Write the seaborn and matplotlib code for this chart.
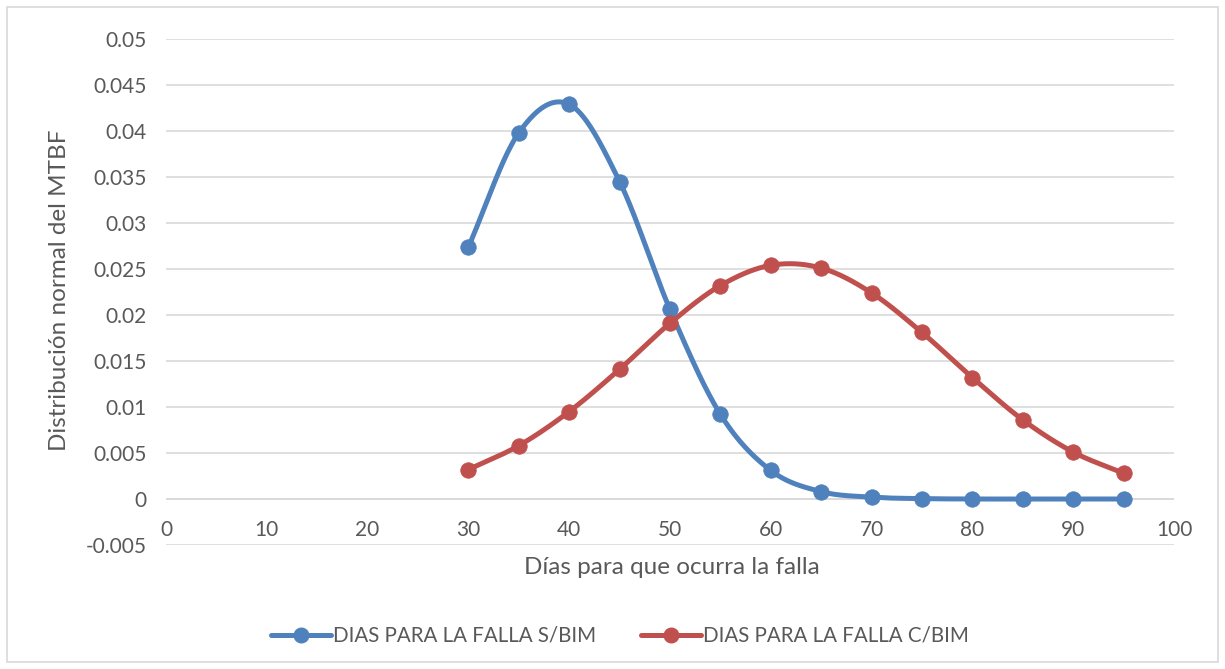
import numpy as np
import pandas as pd
import matplotlib
matplotlib.use("Agg")
import matplotlib.pyplot as plt
from matplotlib.patches import Rectangle
from matplotlib.lines import Line2D
import seaborn as sns

# Days until failure and normal-distribution density of the MTBF
dias = [30, 35, 40, 45, 50, 55, 60, 65, 70, 75, 80, 85, 90, 95]
sin_bim = [0.0274, 0.0398, 0.0429, 0.0345, 0.0206, 0.0092, 0.0031, 0.0008,
           0.0002, 0.00004, 0.0, 0.0, 0.0, 0.0]
con_bim = [0.0032, 0.0058, 0.0095, 0.0141, 0.0191, 0.0232, 0.0254, 0.0251,
           0.0224, 0.0181, 0.0132, 0.0086, 0.0051, 0.0028]
serie_sin = "DIAS PARA LA FALLA S/BIM"
serie_con = "DIAS PARA LA FALLA C/BIM"
x_ticks = list(range(0, 101, 10))
y_ticks = [-0.005, 0, 0.005, 0.01, 0.015, 0.02, 0.025, 0.03, 0.035, 0.04, 0.045, 0.05]
y_tick_labels = ["-0.005", "0", "0.005", "0.01", "0.015", "0.02", "0.025",
                 "0.03", "0.035", "0.04", "0.045", "0.05"]

AZUL = "#4F81BD"
ROJO = "#C0504D"
GRIS_TXT = "#595959"


def suavizar(x, y, n=40):
    """Catmull-Rom style smoothing through every point (spreadsheet 'smoothed line')."""
    x = np.asarray(x, float)
    y = np.asarray(y, float)
    px = np.concatenate([[2 * x[0] - x[1]], x, [2 * x[-1] - x[-2]]])
    py = np.concatenate([[2 * y[0] - y[1]], y, [2 * y[-1] - y[-2]]])
    xs, ys = [], []
    t = np.linspace(0, 1, n, endpoint=False)
    for i in range(1, len(px) - 2):
        p0, p1, p2, p3 = (np.array([px[j], py[j]]) for j in range(i - 1, i + 3))
        c1 = p1 + (p2 - p0) / 6
        c2 = p2 - (p3 - p1) / 6
        b = ((1 - t) ** 3)[:, None] * p1 + (3 * (1 - t) ** 2 * t)[:, None] * c1 \
            + (3 * (1 - t) * t ** 2)[:, None] * c2 + (t ** 3)[:, None] * p2
        xs.append(b[:, 0])
        ys.append(b[:, 1])
    xs.append([x[-1]])
    ys.append([y[-1]])
    return np.concatenate(xs), np.concatenate(ys)


sns.set_theme(style="white")
plt.rcParams["font.family"] = ["Lato", "DejaVu Sans"]

fig = plt.figure(figsize=(12.25, 6.69), dpi=100)
ax = fig.add_axes([166 / 1225, 1 - 545 / 669, (1174 - 166) / 1225, (545 - 39) / 669])

puntos = pd.DataFrame({"dias": dias * 2,
                       "valor": sin_bim + con_bim,
                       "serie": [serie_sin] * len(dias) + [serie_con] * len(dias)})

for serie, color in [(serie_sin, AZUL), (serie_con, ROJO)]:
    sub = puntos[puntos["serie"] == serie]
    sx, sy = suavizar(sub["dias"], sub["valor"])
    curva = pd.DataFrame({"dias": sx, "valor": sy})
    sns.lineplot(data=curva, x="dias", y="valor", ax=ax, color=color, lw=3.6,
                 sort=False, estimator=None, zorder=3)
    sns.scatterplot(data=sub, x="dias", y="valor", ax=ax, color=color, s=125,
                    edgecolor=color, linewidth=0.5, zorder=4)

ax.set_xlim(0, 100)
ax.set_ylim(-0.005, 0.05)
ax.set_yticks(y_ticks)
ax.set_yticklabels(y_tick_labels)
ax.set_xticks(x_ticks)
ax.grid(axis="y", color="#D9D9D9", lw=1.2, zorder=0)
ax.grid(axis="x", visible=False)
for s in ax.spines.values():
    s.set_visible(False)
ax.axhline(0, color="#D9D9D9", lw=1.2, zorder=1)

ax.tick_params(axis="y", length=0, pad=14, labelsize=15, labelcolor=GRIS_TXT)
ax.tick_params(axis="x", length=0, labelsize=15, labelcolor=GRIS_TXT)
# x tick labels sit just beneath the zero line
for lab in ax.get_xticklabels():
    lab.set_visible(False)
for xv in x_ticks:
    ax.annotate(str(xv), xy=(xv, 0), xycoords="data", xytext=(0, -31),
                textcoords="offset pixels", ha="center", va="center",
                fontsize=15, color=GRIS_TXT)

ax.set_xlabel("")
ax.set_ylabel("")
fig.text(672 / 1225, 1 - 568 / 669, "Días para que ocurra la falla", ha="center",
         va="center", fontsize=17.5, color=GRIS_TXT)
fig.text(60 / 1225, 1 - 290 / 669, "Distribución normal del MTBF", ha="center",
         va="center", rotation=90, fontsize=17.5, color=GRIS_TXT)

handles = [Line2D([], [], color=AZUL, lw=3.6, marker="o", markersize=10.5),
           Line2D([], [], color=ROJO, lw=3.6, marker="o", markersize=10.5)]
fig.legend(handles, [serie_sin, serie_con], loc="center",
           bbox_to_anchor=(620 / 1225, 1 - 636 / 669), ncol=2, frameon=False,
           fontsize=14.8, labelcolor=GRIS_TXT, handlelength=2.9,
           handletextpad=0.1, columnspacing=2.2)

fig.patches.append(Rectangle((7 / 1225, 7 / 669), 1 - 14 / 1225, 1 - 14 / 669,
                             transform=fig.transFigure, fill=False,
                             edgecolor="#D9D9D9", lw=1.2))

fig.savefig("out.png", dpi=100, facecolor="white")
